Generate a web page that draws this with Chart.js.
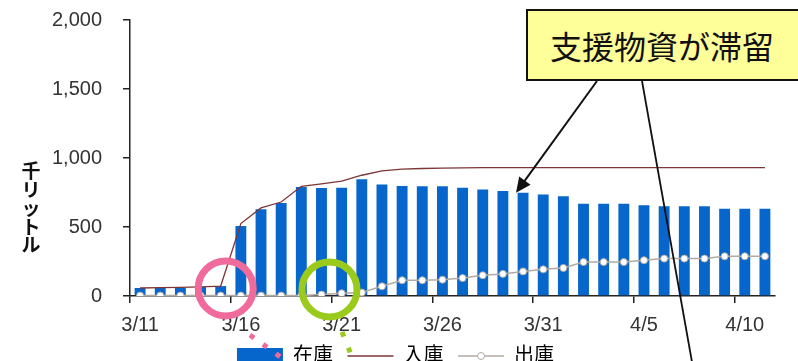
<!DOCTYPE html>
<html>
<head>
<meta charset="utf-8">
<script src="https://cdn.jsdelivr.net/npm/chart.js@4.4.1/dist/chart.umd.min.js"></script>
<style>
  html, body { margin: 0; padding: 0; background: #fff; overflow: hidden; }
  #wrap { position: relative; width: 798px; height: 361px; overflow: hidden; }
  #note {
    position: absolute; left: 526px; top: 9px; width: 300px; height: 68px;
    background: #ffff99; border: 2px solid #111; color: #111;
    font: 32px 'Noto Sans CJK JP', sans-serif; line-height: 68px; padding-left: 22px;
  }
</style>
</head>
<body>
<div id="wrap">
  <canvas id="chart" width="798" height="376"></canvas>
  <div id="note">支援物資が滞留</div>
</div>
<script>
// dates 3/11 .. 4/11
const dates = ['3/11','3/12','3/13','3/14','3/15','3/16','3/17','3/18','3/19','3/20',
  '3/21','3/22','3/23','3/24','3/25','3/26','3/27','3/28','3/29','3/30','3/31',
  '4/1','4/2','4/3','4/4','4/5','4/6','4/7','4/8','4/9','4/10','4/11'];

// 在庫 (bars)
const stock = [58, 58, 58, 65, 72, 507, 628, 674, 790, 783,
  785, 846, 808, 797, 796, 795, 785, 771, 760, 748, 736,
  722, 669, 669, 669, 657, 650, 650, 650, 633, 633, 633];

// 入庫 (line)
const inbound = [58, 60, 62, 66, 72, 525, 638, 681, 795, 812,
  832, 875, 906, 920, 924, 926, 928, 930, 930, 930, 930,
  930, 930, 930, 930, 930, 930, 930, 930, 930, 930, 930];

// 出庫 (line with markers)
const outbound = [3, 3, 3, 3, 3, 3, 3, 3, 3, 10,
  20, 25, 70, 114, 114, 118, 130, 150, 160, 178, 193,
  203, 246, 246, 246, 259, 271, 271, 271, 288, 288, 288];

const seriesNames = ['在庫', '入庫', '出庫'];
const yTitle = '千リットル';

const barColor = '#0766cc';
const inColor = '#7d3535';
const outColor = '#b3aaa2';
const axisColor = '#222';
const pink = '#f06b9c';
const green = '#9acb1c';

// draws the stacked y title, legend marker and the slide annotations
const extras = {
  id: 'extras',
  afterLayout(chart) {
    // legend is centred on the whole slide, not on the padded area
    chart.legend.left += 8;
    chart.legend.right += 8;
  },
  afterDraw(chart) {
    const ctx = chart.ctx;
    const x = chart.scales.x;
    const y = chart.scales.y;
    ctx.save();

    // vertical y axis title
    ctx.fillStyle = '#111';
    ctx.font = 'bold 19px "Noto Sans CJK JP"';
    ctx.textAlign = 'center';
    ctx.textBaseline = 'middle';
    [...yTitle].forEach((ch, i) => ctx.fillText(ch, 31, 171 + i * 18.5));

    // circle marker on the 出庫 legend line
    const items = chart.legend.legendItems;
    const boxes = chart.legend.legendHitBoxes;
    items.forEach((item, i) => {
      if (item.text.trim() !== seriesNames[2]) return;
      const b = boxes[i];
      ctx.beginPath();
      ctx.arc(b.left + 23, b.top + b.height / 2, 3.5, 0, Math.PI * 2);
      ctx.fillStyle = '#fff';
      ctx.fill();
      ctx.lineWidth = 1;
      ctx.strokeStyle = outColor;
      ctx.stroke();
    });

    // arrow from note box to the stock bar
    const tipX = x.getPixelForValue(19) - 7;
    const tipY = y.getPixelForValue(stock[19]);
    const sx = 597, sy = 81;
    const ang = Math.atan2(tipY - sy, tipX - sx);
    ctx.strokeStyle = '#111';
    ctx.fillStyle = '#111';
    ctx.lineWidth = 2;
    ctx.beginPath();
    ctx.moveTo(sx, sy);
    ctx.lineTo(tipX - Math.cos(ang) * 10, tipY - Math.sin(ang) * 10);
    ctx.stroke();
    ctx.beginPath();
    ctx.moveTo(tipX, tipY);
    ctx.lineTo(tipX - Math.cos(ang) * 15 + Math.sin(ang) * 7, tipY - Math.sin(ang) * 15 - Math.cos(ang) * 7);
    ctx.lineTo(tipX - Math.cos(ang) * 15 - Math.sin(ang) * 7, tipY - Math.sin(ang) * 15 + Math.cos(ang) * 7);
    ctx.closePath();
    ctx.fill();

    // second leader line going down out of the picture
    ctx.lineWidth = 1.8;
    ctx.beginPath();
    ctx.moveTo(642, 81);
    ctx.lineTo(642 + 50 / 281 * 320, 81 + 320);
    ctx.stroke();

    // highlight circles at the axis
    const y0 = y.getPixelForValue(55);
    ctx.lineWidth = 7;
    ctx.strokeStyle = pink;
    ctx.beginPath();
    ctx.arc(x.getPixelForValue(4) + 5, y0, 27.5, 0, Math.PI * 2);
    ctx.stroke();
    ctx.strokeStyle = green;
    ctx.beginPath();
    ctx.arc(x.getPixelForValue(9) + 8, y0 + 1, 27.5, 0, Math.PI * 2);
    ctx.stroke();

    // dotted leaders
    ctx.lineWidth = 5;
    ctx.setLineDash([5, 11]);
    ctx.strokeStyle = pink;
    ctx.beginPath();
    ctx.moveTo(250, 335);
    ctx.lineTo(250 + 25 * 2.4, 335 + 18 * 2.4);
    ctx.stroke();
    ctx.setLineDash([5, 12]);
    ctx.strokeStyle = green;
    ctx.beginPath();
    ctx.moveTo(342, 332);
    ctx.lineTo(342 + 10 * 2, 332 + 25 * 2);
    ctx.stroke();

    ctx.restore();
  }
};

const ctx = document.getElementById('chart').getContext('2d');
new Chart(ctx, {
  type: 'bar',
  data: {
    labels: dates,
    datasets: [{
      label: seriesNames[0],
      data: stock,
      backgroundColor: barColor,
      barPercentage: 0.54,
      categoryPercentage: 1,
      order: 2
    }, {
      label: seriesNames[1],
      type: 'line',
      data: inbound,
      borderColor: inColor,
      borderWidth: 1.3,
      pointRadius: 0,
      tension: 0,
      order: 1
    }, {
      label: seriesNames[2],
      type: 'line',
      data: outbound,
      borderColor: outColor,
      borderWidth: 1.5,
      pointRadius: 3.5,
      pointBackgroundColor: '#fff',
      pointBorderColor: outColor,
      pointBorderWidth: 1,
      tension: 0,
      order: 1
    }]
  },
  options: {
    responsive: false,
    animation: false,
    devicePixelRatio: 1,
    layout: { padding: { top: 20, right: 23, left: 0, bottom: 0 } },
    plugins: {
      tooltip: { enabled: false },
      legend: {
        position: 'bottom',
        labels: {
          usePointStyle: true,
          pointStyleWidth: 46,
          boxHeight: 16,
          padding: 9,
          color: '#222',
          font: { size: 20, family: "'Liberation Sans', 'Noto Sans CJK JP', sans-serif" },
          // trailing space widens the gap between legend entries
          generateLabels: () => [
            { text: seriesNames[0] + ' ', fillStyle: barColor, strokeStyle: barColor, lineWidth: 0, pointStyle: 'rect', datasetIndex: 0 },
            { text: seriesNames[1] + ' ', fillStyle: inColor, strokeStyle: inColor, lineWidth: 1.3, pointStyle: 'line', datasetIndex: 1 },
            { text: seriesNames[2], fillStyle: outColor, strokeStyle: outColor, lineWidth: 1.5, pointStyle: 'line', datasetIndex: 2 }
          ]
        }
      }
    },
    scales: {
      x: {
        offset: true,
        afterFit: s => { s.height = 41; },
        grid: {
          offset: true,
          drawOnChartArea: false,
          tickLength: 7,
          lineWidth: 1.5,
          color: c => (c.index % 5 === 0 ? axisColor : 'rgba(0,0,0,0)')
        },
        border: { color: axisColor, width: 1.5 },
        ticks: {
          autoSkip: false,
          maxRotation: 0,
          padding: 10,
          color: '#333',
          font: { size: 20, family: "'Liberation Sans', sans-serif" },
          callback: (v, i) => (i % 5 === 0 ? dates[i] : '')
        }
      },
      y: {
        min: 0,
        max: 2000,
        afterFit: s => { s.width = 130; s.paddingTop = 0; s.paddingBottom = 0; },
        grid: { drawOnChartArea: false, tickLength: 7, color: axisColor, lineWidth: 1.5 },
        border: { color: axisColor, width: 1.5 },
        ticks: {
          stepSize: 500,
          padding: 21,
          color: '#333',
          font: { size: 20, family: "'Liberation Sans', sans-serif" },
          callback: v => v.toLocaleString('en-US')
        }
      }
    }
  },
  plugins: [extras]
});
</script>
</body>
</html>
